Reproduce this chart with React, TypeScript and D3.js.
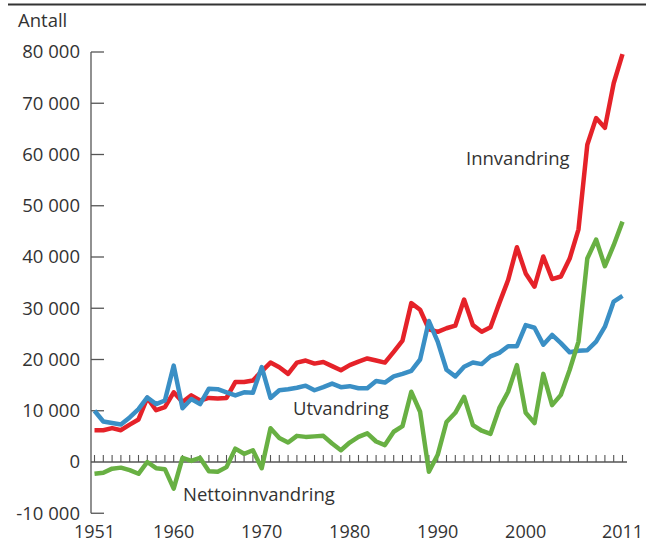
import React from "react";
import * as d3 from "d3";

const years: number[] = d3.range(1951, 2012);

const innvandring: number[] = [
  6200, 6200, 6600, 6200, 7300, 8300, 12500, 10100, 10700, 13600,
  11700, 13000, 12000, 12500, 12400, 12500, 15600, 15600, 15900, 17700,
  19400, 18500, 17200, 19400, 19800, 19200, 19500, 18700, 17900, 18900,
  19600, 20200, 19800, 19400, 21500, 23700, 31000, 29700, 25900, 25400,
  26100, 26600, 31700, 26700, 25400, 26300, 31000, 35500, 41900, 36800,
  34200, 40100, 35700, 36200, 39700, 45400, 61900, 67100, 65200, 73900,
  79600,
];

const utvandring: number[] = [
  10000, 7900, 7600, 7300, 8700, 10300, 12600, 11300, 12000, 18800,
  10500, 12300, 11300, 14300, 14200, 13600, 13000, 13600, 13500, 18500,
  12500, 14000, 14200, 14500, 14900, 14000, 14600, 15300, 14600, 14800,
  14400, 14400, 15800, 15500, 16700, 17200, 17800, 20000, 27500, 23500,
  18000, 16700, 18600, 19400, 19100, 20600, 21300, 22600, 22600, 26700,
  26200, 22900, 24800, 23200, 21400, 21700, 21800, 23500, 26400, 31300,
  32400,
];

const nettoinnvandring: number[] = [
  -2300, -2100, -1300, -1100, -1600, -2300, 0, -1200, -1400, -5200,
  800, 200, 800, -1800, -1900, -1000, 2600, 1600, 2300, -1200,
  6600, 4700, 3800, 5100, 4900, 5000, 5100, 3600, 2300, 3800,
  4900, 5600, 4000, 3300, 5900, 7000, 13700, 9800, -1900, 1400,
  7800, 9600, 12700, 7200, 6100, 5500, 10500, 13700, 18900, 9600,
  7600, 17200, 11100, 13100, 18000, 23500, 39700, 43400, 38200, 42300,
  46900,
];

const yTicks: number[] = [-10000, 0, 10000, 20000, 30000, 40000, 50000, 60000, 70000, 80000];
const xLabelYears: number[] = [1951, 1960, 1970, 1980, 1990, 2000, 2011];

const W = 646;
const H = 544;
const FONT = "'Open Sans', 'DejaVu Sans', sans-serif";
const TEXT = "#333333";
const AXIS = "#555555";

export default function App() {
  const x = d3.scaleLinear().domain([1951, 2011]).range([94.5, 622.5]);
  const y = d3.scaleLinear().domain([-10000, 80000]).range([513.25, 52]);
  const axisX = 91;

  const line = (vals: number[]) =>
    d3
      .line<number>()
      .x((_, i) => x(years[i]))
      .y((v) => y(v))(vals) || "";

  const fmt = (v: number) => {
    const s = d3.format(",")(Math.abs(v)).replace(/,/g, " ");
    return (v < 0 ? "-" : "") + s;
  };

  const series = [
    { vals: innvandring, color: "#e52229" },
    { vals: utvandring, color: "#3a8fc5" },
    { vals: nettoinnvandring, color: "#68b043" },
  ];

  return (
    <svg
      width={W}
      height={H}
      style={{ position: "absolute", left: 0, top: 0, background: "#fff" }}
      fontFamily={FONT}
    >
      <line x1={8} x2={646} y1={4.5} y2={4.5} stroke="#333" strokeWidth={2} />
      <text x={18} y={27} fontSize={18.5} fill={TEXT}>
        Antall
      </text>

      {/* Y axis */}
      <line x1={axisX} x2={axisX} y1={y(80000)} y2={y(-10000)} stroke={AXIS} strokeWidth={1.3} />
      {yTicks.map((t) => (
        <g key={t}>
          {t !== 0 && (
            <line x1={axisX} x2={axisX + 13} y1={y(t)} y2={y(t)} stroke={AXIS} strokeWidth={1.3} />
          )}
          <text
            x={80}
            y={y(t)}
            dy="0.35em"
            textAnchor="end"
            fontSize={18.5}
            fill={TEXT}
          >
            {fmt(t)}
          </text>
        </g>
      ))}

      {/* zero line with year ticks */}
      <line x1={axisX} x2={627} y1={y(0)} y2={y(0)} stroke={AXIS} strokeWidth={1.3} />
      {years.map((yr) => (
        <line
          key={yr}
          x1={x(yr)}
          x2={x(yr)}
          y1={y(0) - 7}
          y2={y(0)}
          stroke={AXIS}
          strokeWidth={1.1}
        />
      ))}
      {xLabelYears.map((yr) => (
        <text key={yr} x={x(yr)} y={538} textAnchor="middle" fontSize={18} fill={TEXT}>
          {yr}
        </text>
      ))}

      {series.map((s, i) => (
        <path
          key={i}
          d={line(s.vals)}
          fill="none"
          stroke={s.color}
          strokeWidth={4.5}
          strokeLinejoin="round"
          strokeLinecap="butt"
        />
      ))}

      <text x={466} y={165} fontSize={18.5} fill={TEXT}>
        Innvandring
      </text>
      <text x={293} y={415} fontSize={18.5} fill={TEXT}>
        Utvandring
      </text>
      <text x={183} y={501} fontSize={18.5} fill={TEXT}>
        Nettoinnvandring
      </text>
    </svg>
  );
}
